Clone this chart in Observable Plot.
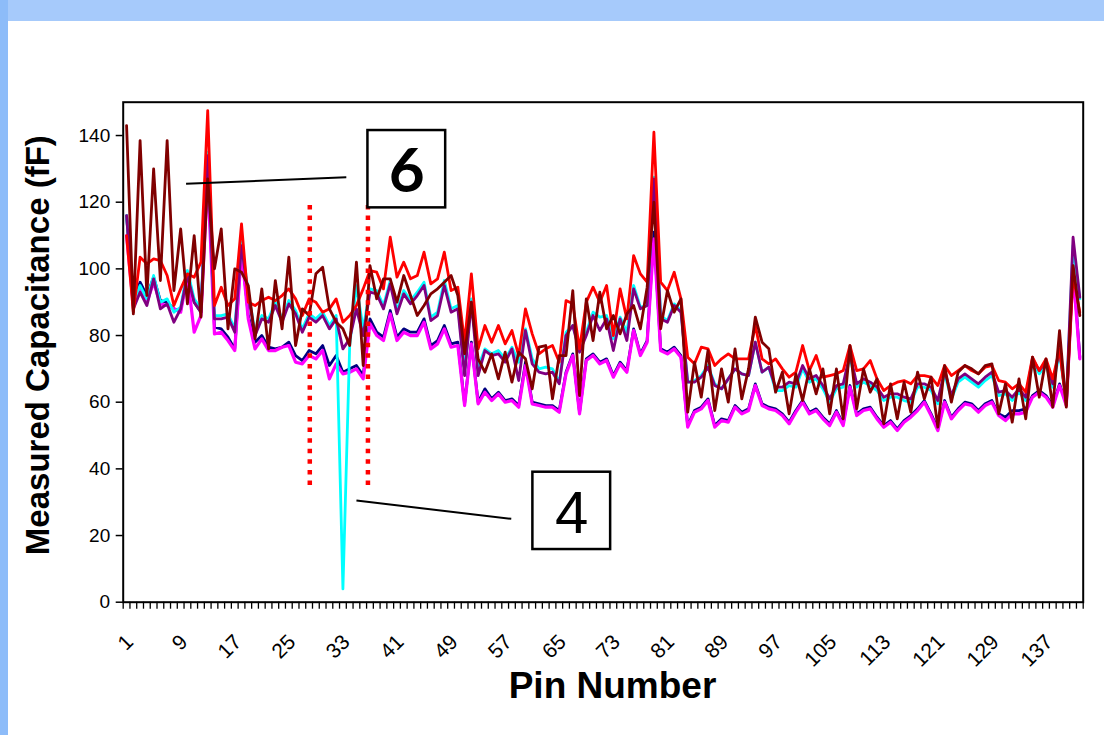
<!DOCTYPE html>
<html>
<head>
<meta charset="utf-8">
<script src="https://cdn.jsdelivr.net/npm/d3@7"></script>
<script src="https://cdn.jsdelivr.net/npm/@observablehq/plot@0.6"></script>
<style>
  html, body { margin: 0; padding: 0; background: #fff; }
  #page { position: relative; width: 1104px; height: 735px; overflow: hidden; background: #fff; }
  #topband { position: absolute; left: 0; top: 0; width: 1104px; height: 21px; background: #a6cafb; }
  #leftband { position: absolute; left: 0; top: 0; width: 8px; height: 735px; background: #8dbcf9; }
  #chart { position: absolute; left: 0; top: 0; }
</style>
</head>
<body>
<div id="page">
  <div id="topband"></div>
  <div id="leftband"></div>
  <div id="chart"></div>
</div>
<script>
// Pin numbers along the package (categories)
const pins = d3.range(1, 143);
const pinLabels = [1, 9, 17, 25, 33, 41, 49, 57, 65, 73, 81, 89, 97, 105, 113, 121, 129, 137];
const yTicks = [0, 20, 40, 60, 80, 100, 120, 140];

// Measured capacitance per pin (fF), one list per measurement
const red = [
  110, 87, 103.5, 101.5, 103, 102.5, 98, 89, 94, 98.5, 97.5, 102, 147.5,
  89, 94.5, 89, 91, 113.5, 90, 89,
  90.5, 91.5, 90.5, 92, 94, 91, 86, 91, 90, 87, 88, 91, 84, 86, 89, 94,
  99.5, 99, 94, 109.5, 97.5, 102, 97, 98, 105, 95.5, 97, 105, 93.5, 94.5,
  78, 98.5, 76, 83, 78, 83, 77.5, 81.5, 74, 88,
  80.5, 74.5, 76, 77, 72, 90.5, 89.5, 76, 90, 94.5,
  90, 95, 80, 94, 85, 104, 98.5, 96, 141, 96,
  93.5, 99, 91, 73.5, 71.5, 76.5, 76, 71, 73, 74.5,
  73, 73, 73, 83, 73, 71.5,
  73, 70, 67.5, 69, 77, 69.5, 74, 67.5, 68, 68.5, 69.5, 77, 69.5, 70,
  72.5, 67, 63.5, 65, 66, 66.5, 65.5, 68, 68, 67.5,
  65, 71, 68, 69.5, 71, 69.5, 68.5, 70.5, 71, 66.5,
  66, 64, 65.5, 63, 73.5, 69.5, 73, 67, 76, 59, 98, 87
];
const maroon = [
  143, 86.5, 138.5, 92, 130, 96.5, 138.5, 93.5, 112, 89.5, 110, 85.5, 127,
  100, 112, 82, 100, 99, 95, 79,
  94, 76, 96.5, 82, 103.5, 77, 88, 86, 98.5, 100.5, 88, 84, 82, 77, 102, 71,
  101, 91, 97, 97, 90, 98, 92, 86, 89, 92.5, 94, 96, 98, 92,
  74.5, 90, 73, 69, 74.5, 67, 75, 66, 75, 73,
  64, 76.5, 77, 61, 74, 74, 93.5, 62, 91, 78.5,
  93, 82, 86, 80.5, 86.5, 89, 82, 94.5, 120, 82,
  93.5, 87, 91, 57, 72, 61.5, 75.5, 57.5, 70, 60,
  76, 61, 70, 85.5, 78, 76,
  63, 69, 56.5, 68.5, 60.5, 70, 62.5, 70, 56.5, 70, 55, 77, 58, 70,
  63, 67, 53.5, 65.5, 55, 66, 57, 69, 61, 67.5,
  52.5, 71, 60, 69, 71, 70, 68.5, 71, 71.5, 56.5,
  65.5, 54, 67, 55, 73.5, 61.5, 73, 58.5, 81.5, 58.5, 101, 86
];
const purple = [
  116, 88, 93, 89, 97, 88, 89.5, 84, 88, 98, 90, 87, 134,
  85, 85, 85.5, 81, 107, 92, 80,
  85, 84, 89, 84, 89.5, 86.5, 81, 85.5, 84, 86, 82, 85, 76, 79, 88, 80,
  93, 92.5, 88, 95.5, 86.5, 92.5, 89.5, 92, 95, 84.5, 86, 95, 87, 88,
  68, 90, 68, 75.5, 74, 74.5, 72, 76, 66.5, 81.5,
  71.5, 69, 68.5, 69, 65.5, 80, 83, 75, 80, 86,
  81.5, 85, 75.5, 85, 78.5, 94, 88, 89, 127, 85,
  84, 89, 87, 66, 66, 67.5, 70.5, 65, 64, 67,
  70, 68.5, 68, 78, 69, 70.5,
  64.5, 64.5, 66, 65.5, 71, 67, 68, 65, 61, 65, 65.5, 74.5, 65.5, 67,
  66, 64.5, 61.5, 62.5, 62.5, 61.5, 61, 65.5, 65.5, 64.5,
  60.5, 69.5, 62, 67, 68.5, 67, 65.5, 67.5, 69, 63,
  63.5, 61.5, 64, 61.5, 73, 69.5, 72, 65.5, 76, 60, 109.5, 91.5
];
const cyan = [
  116, 90, 95, 91, 98, 90, 91, 87, 88.5, 99.5, 91, 88, 135,
  86, 86, 86.5, 82, 108, 93, 81,
  86, 85, 90, 85, 90.5, 87.5, 82, 86.5, 85, 87, 83, 86, 4, 77, 95, 82,
  94, 93.5, 89, 96.5, 87.5, 93.5, 90.5, 93, 96, 85.5, 87, 96.5, 88, 89,
  69.5, 91, 70.5, 76, 74.5, 75.5, 73, 76.5, 72, 82,
  73, 70, 70.5, 70, 66, 81, 83, 76, 81, 87,
  85.5, 86, 79, 85.5, 81, 95, 88.5, 89, 127.5, 86,
  84.5, 89.5, 87.5, 66, 66.5, 68, 71, 65.5, 64, 67,
  70, 68.5, 68, 78, 69, 70.5,
  63.5, 63.5, 65, 64.5, 70, 66, 67, 64, 60, 64, 64.5, 73.5, 64.5, 66,
  65, 63.5, 60.5, 61.5, 61.5, 60.5, 60, 64.5, 64.5, 63.5,
  59.5, 68.5, 61, 66, 67.5, 66, 64.5, 66.5, 68, 62,
  62.5, 60.5, 63, 60.5, 72, 68.5, 71, 64.5, 75, 59.5, 107, 91
];
const navy = [
  116, 91, 96, 92, 97.5, 90.5, 90, 88, 87.5, 99, 90, 87, 131,
  82.5, 82, 79.5, 76, 106.5, 86, 78,
  80, 76.5, 76, 76.5, 78, 74, 72.5, 75.5, 74.5, 77, 71, 74, 69, 70, 71, 68,
  85, 81, 79.5, 87.5, 79.5, 82, 81, 81, 85, 77, 78.5, 83, 77.5, 78,
  59.5, 78, 60, 64, 61, 63, 60.5, 61, 59, 72,
  60, 59.5, 59, 59, 57.5, 69, 74.5, 57, 73, 74.5,
  72, 73, 68, 72, 69.5, 82, 74.5, 78.5, 111, 76,
  75, 76.5, 74, 53, 57.5, 58.5, 61, 53, 55, 54.5,
  59, 57, 58, 65.5, 59.5, 58.5,
  58, 56.5, 54, 57.5, 60.5, 57, 58, 55.5, 53.5, 57.5, 53.5, 65, 56.5, 58,
  58.5, 55.5, 53, 54.5, 52, 54.5, 56, 58, 60.5, 56.5,
  52, 60.5, 55.5, 58, 60, 59.5, 57.5, 59.5, 60.5, 56.5,
  55.5, 57.5, 57.5, 58, 62, 63.5, 62, 59, 65.5, 59.5, 101, 73.5
];
const magenta = [
  110, 89, 94, 90, 96, 89.5, 89, 88, 87, 98, 81, 86, 128,
  80.5, 81, 78.5, 75.5, 105.5, 85, 76,
  79, 75.5, 75.5, 76.5, 77, 72, 71.5, 74, 73, 75.5, 67, 71.5, 68.5, 69, 70, 67,
  83.5, 80, 78.5, 86.5, 78.5, 81, 80, 80, 84, 76, 77.5, 82, 76.5, 77,
  59, 77.5, 59.5, 63, 60.5, 62.5, 60, 60.5, 58.5, 71,
  59.5, 59, 58.5, 58.5, 57, 68.5, 74, 56.5, 72.5, 74,
  71.5, 72.5, 67.5, 71.5, 69, 81.5, 74, 78, 109, 75.5,
  74.5, 76, 73.5, 52.5, 57, 58, 60.5, 52.5, 54.5, 54,
  58.5, 56.5, 57.5, 65, 59, 58,
  57.5, 56, 53.5, 57, 60, 56.5, 57.5, 55, 53, 57, 53, 64.5, 56, 57.5,
  58, 55, 52.5, 54, 51.5, 54, 55.5, 57.5, 60, 56,
  51.5, 60, 55, 57.5, 59.5, 59, 57, 59, 60, 56,
  54.5, 56.5, 56.5, 57, 61.5, 63, 61.5, 58.5, 65, 59, 99, 73
];

// Drawing order: later series sit on top
const series = [
  {values: navy, color: "#000080", width: 2.8},
  {values: magenta, color: "#ff00ff", width: 3.2},
  {values: cyan, color: "#00ffff", width: 2.8},
  {values: purple, color: "#800080", width: 2.8},
  {values: red, color: "#ff0000", width: 2.8},
  {values: maroon, color: "#800000", width: 2.8}
];

// Category boundaries carry the small ticks under the axis
const boundaries = d3.range(0.5, 143, 1);

// Callout boxes and their leader lines (pin, fF)
const callouts = [
  {label: "6", x1: 36.7, x2: 48.2, y1: 118.3, y2: 141.5},
  {label: "4", x1: 61.1, x2: 72.6, y1: 15.8, y2: 39}
];
const leaders = [
  {x1: 9.8, y1: 125.5, x2: 33.5, y2: 127.5},
  {x1: 35.0, y1: 30.5, x2: 57.9, y2: 25}
];
const windowEdges = [28.1, 36.7];

const lineMarks = series.map(s =>
  Plot.line(pins, {
    x: d => d,
    y: (d, i) => s.values[i],
    stroke: s.color,
    strokeWidth: s.width,
    strokeLinejoin: "round",
    strokeLinecap: "round"
  })
);

const chart = Plot.plot({
  width: 1104,
  height: 735,
  marginLeft: 122.7,
  marginRight: 21.3,
  marginTop: 101.7,
  marginBottom: 133.3,
  x: {domain: [0.5, 142.5]},
  y: {domain: [0, 150]},
  style: {
    background: "transparent",
    fontFamily: "'Liberation Sans', Arial, sans-serif",
    fontSize: "19px",
    color: "black",
    overflow: "visible"
  },
  marks: [
    ...lineMarks,
    Plot.ruleX(windowEdges, {
      x: d => d, y1: 35, y2: 119.5,
      stroke: "#ff0000", strokeWidth: 4.5, strokeDasharray: "4.5 6.1"
    }),
    Plot.link(leaders, {
      x1: "x1", y1: "y1", x2: "x2", y2: "y2",
      stroke: "black", strokeWidth: 2
    }),
    Plot.rect(callouts, {
      x1: "x1", x2: "x2", y1: "y1", y2: "y2",
      fill: "white", stroke: "black", strokeWidth: 2.5
    }),
    Plot.text(callouts.filter(c => c.label === "6"), {
      x: c => (c.x1 + c.x2) / 2, y: c => (c.y1 + c.y2) / 2,
      text: "label", fontSize: 62, fontWeight: "bold",
      fontFamily: "Lato, 'DejaVu Sans', sans-serif",
      fill: "black", dy: 3
    }),
    Plot.text(callouts.filter(c => c.label === "4"), {
      x: c => (c.x1 + c.x2) / 2, y: c => (c.y1 + c.y2) / 2,
      text: "label", fontSize: 60,
      fontFamily: "'Liberation Sans', Arial, sans-serif",
      fill: "black", dy: 3
    }),
    Plot.axisY(yTicks, {
      tickSize: 7, tickPadding: 6, strokeWidth: 1.5, fontSize: 19, label: null
    }),
    Plot.axisX(boundaries, {
      tickSize: 7, tickFormat: () => "", strokeWidth: 1.3, label: null
    }),
    Plot.text(pinLabels, {
      x: d => d, frameAnchor: "bottom", dx: 8, dy: 41,
      rotate: -45, textAnchor: "end", fontSize: 21
    }),
    Plot.text(["Measured Capacitance (fF)"], {
      frameAnchor: "left", dx: -84.7, dy: -7, rotate: -90,
      textAnchor: "middle", fontSize: 33, fontWeight: "bold"
    }),
    Plot.text(["Pin Number"], {
      frameAnchor: "bottom", textAnchor: "middle", dx: 9.3, dy: 96,
      fontSize: 37, fontWeight: "bold"
    }),
    Plot.frame({stroke: "black", strokeWidth: 2})
  ]
});

document.getElementById("chart").appendChild(chart);
</script>
</body>
</html>
